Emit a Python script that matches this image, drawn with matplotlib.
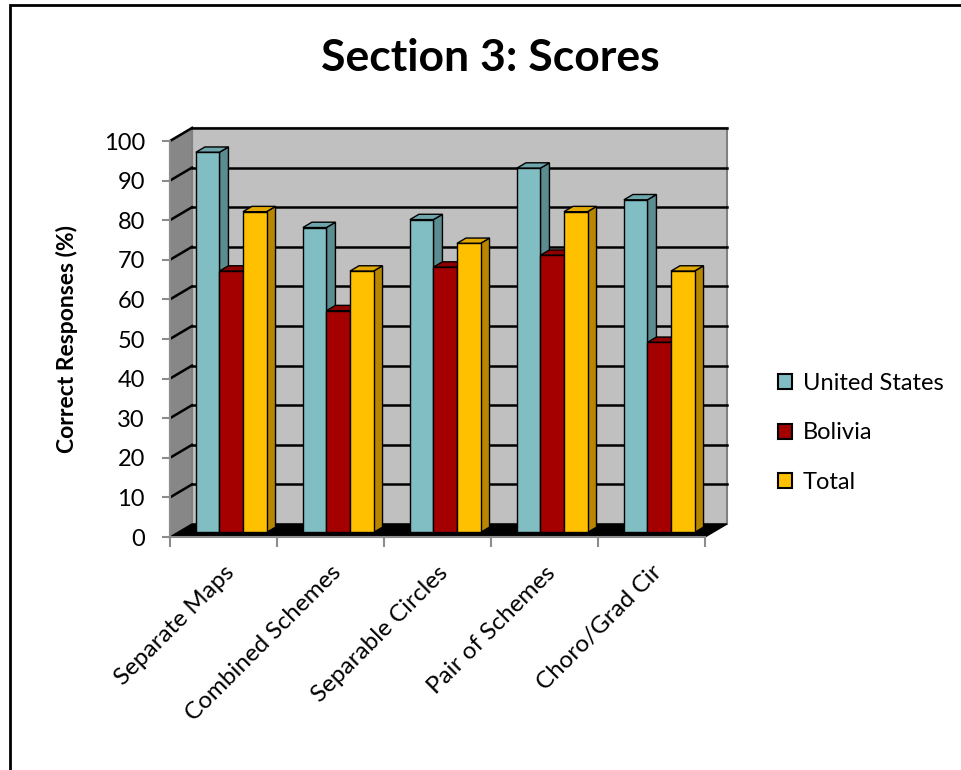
import matplotlib.pyplot as plt
from matplotlib.patches import Polygon, Patch, Rectangle
from matplotlib.lines import Line2D

# Section 3 scores by map scheme
categories = ["Separate Maps", "Combined Schemes", "Separable Circles",
              "Pair of Schemes", "Choro/Grad Cir"]
united_states = [96, 77, 79, 92, 84]
bolivia = [66, 56, 67, 70, 48]
total = [81, 66, 73, 81, 66]
series_names = ["United States", "Bolivia", "Total"]
yticks = list(range(0, 101, 10))

face_cols = ["#80BEC3", "#A50000", "#FFC000"]
side_cols = ["#5A8C90", "#7A0000", "#B88600"]
top_cols = ["#6FA6AB", "#8E0000", "#E0A800"]

plt.rcParams['font.family'] = ['Lato', 'DejaVu Sans']

W, H = 962, 770
fig = plt.figure(figsize=(W / 100, H / 100), dpi=100)

# plot box in pixels: front floor edge 170..705, value 0..100 -> y 537..141
ax = fig.add_axes([170 / W, (H - 537) / H, 535 / W, 396 / H])
ax.set_xlim(0, 5)
ax.set_ylim(0, 100)

# oblique depth: full depth shifts by DX categories and DY value units
DX = 22 / 107
DY = 13 / 3.96


def shift(pts, d):
    return [(x + d * DX, y + d * DY) for x, y in pts]


def poly(pts, fc, ec="black", lw=1.0, z=1):
    ax.add_patch(Polygon(pts, closed=True, facecolor=fc, edgecolor=ec,
                         linewidth=lw, clip_on=False, zorder=z))


# back wall, side wall and floor
ncat = len(categories)
poly(shift([(0, 0), (ncat, 0), (ncat, 100), (0, 100)], 1), "#C0C0C0",
     ec="#808080", lw=1.5, z=0.5)
poly([(0, 0), (DX, DY), (DX, 100 + DY), (0, 100)], "#878787",
     ec="#808080", lw=1.5, z=0.5)
for v in yticks[1:]:
    ax.add_line(Line2D([DX, ncat + DX], [v + DY, v + DY], color="black",
                       lw=1.8, clip_on=False, zorder=0.6))
    ax.add_line(Line2D([0, DX], [v, v + DY], color="black",
                       lw=1.8, clip_on=False, zorder=0.6))
poly([(0, 0), (ncat, 0), (ncat + DX, DY), (DX, DY)], "black", z=0.7)

# 3D columns, drawn left to right so each front face covers the previous side
values = [united_states, bolivia, total]
bar_w = 0.22
start = (1 - 3 * bar_w) / 2
d0, d1 = 0.35, 0.76
for i in range(ncat):
    for j, vals in enumerate(values):
        v = vals[i]
        x0 = i + start + j * bar_w
        x1 = x0 + bar_w
        z = 2 + i * 3 + j
        side = [(x1, 0), (x1, v)]
        poly(shift(side, d0) + shift(side[::-1], d1), side_cols[j], z=z)
        top = [(x0, v), (x1, v)]
        poly(shift(top, d0) + shift(top[::-1], d1), top_cols[j], z=z)
        poly(shift([(x0, 0), (x1, 0), (x1, v), (x0, v)], d0),
             face_cols[j], z=z + 0.5)

# axes: left and bottom spines with ticks
for s in ["top", "right"]:
    ax.spines[s].set_visible(False)
for s in ["left", "bottom"]:
    ax.spines[s].set_color("#8C8C8C")
    ax.spines[s].set_linewidth(1.5)
    ax.spines[s].set_zorder(0.8)
ax.set_yticks(yticks)
ax.set_yticklabels([str(t) for t in yticks], fontsize=17)
ax.tick_params(axis="y", length=6, width=1.5, color="#8C8C8C", pad=12)
ax.set_xticks(range(ncat + 1))
ax.set_xticklabels([])
ax.set_xticks([i + 0.5 for i in range(ncat)], minor=True)
ax.set_xticklabels(categories, minor=True, rotation=45, ha="right",
                   rotation_mode="anchor", fontsize=17.5)
ax.tick_params(axis="x", which="major", length=7, width=1.5,
               color="#8C8C8C")
ax.tick_params(axis="x", which="minor", length=0, pad=18)
ax.set_facecolor("none")

ax.set_ylabel("Correct Responses (%)", fontsize=16.5, fontweight="bold")
ax.yaxis.set_label_coords(-0.172, 0.5)

fig.text(490 / W, 1 - 58 / H, "Section 3: Scores", ha="center",
         va="center", fontsize=32, fontweight="bold")

handles = [Patch(facecolor=c, edgecolor="black", linewidth=1.5)
           for c in face_cols]
fig.legend(handles, series_names, loc="center left",
           bbox_to_anchor=(757 / W, 1 - 433 / H), frameon=False,
           fontsize=17, handlelength=0.6, handleheight=0.6,
           handletextpad=0.45, labelspacing=1.2)

# outer chart frame
fig.add_artist(Rectangle((10 / W, -0.1), 1.2, 1 - 5 / H + 0.1,
                         transform=fig.transFigure, fill=False,
                         edgecolor="black", linewidth=2))

fig.savefig("out.png", dpi=100)
